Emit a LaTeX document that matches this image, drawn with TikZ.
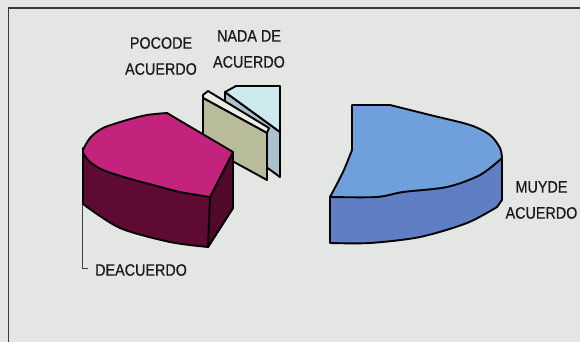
\documentclass[tikz,border=0pt]{standalone}
\usepackage{fontspec}
\newfontfamily\lbl[FakeStretch=0.87,FakeBold=0.5]{Liberation Sans}
\definecolor{bgc}{HTML}{E4E6E3}
\definecolor{framec}{HTML}{3A3A3A}
\definecolor{redtop}{HTML}{C3237D}
\definecolor{redside}{HTML}{5F0A32}
\definecolor{redright}{HTML}{52082B}
\definecolor{bluetop}{HTML}{70A0DC}
\definecolor{blueside}{HTML}{5F7EC4}
\definecolor{sheetgray}{HTML}{B9BC9B}
\definecolor{sheetlight}{HTML}{ECEEE6}
\definecolor{sheetblue}{HTML}{A9C2CE}
\definecolor{sheetcyan}{HTML}{CDEAEE}
\begin{document}
\begin{tikzpicture}[x=1pt,y=-1pt,
  edge/.style={draw=black,line width=1.9pt,line join=round},
  lab/.style={font=\lbl\fontsize{16.5}{26}\selectfont,align=center,inner sep=0pt,text=black!90},
  leader/.style={draw=black!75,line width=1pt}]
\fill[bgc] (0,0) rectangle (580,342);
\useasboundingbox (0,0) rectangle (580,342);
\draw[framec,line width=1.2pt] (8.5,342) -- (8.5,8) -- (580,8);

% thin slices (exploded)
\filldraw[edge,fill=sheetblue] (225,92) -- (280,132) -- (280,177) -- (225,137) -- cycle;
\filldraw[edge,fill=sheetcyan] (225,92) -- (236,86) -- (280,86) -- (280,132) -- cycle;
\filldraw[edge,fill=sheetlight] (203,98) -- (203,95) -- (208,91) -- (269,128) -- (267,133) -- cycle;
\filldraw[edge,fill=sheetgray] (203,98) -- (267,133) -- (267,180) -- (203,145) -- cycle;

% DE ACUERDO piece
\filldraw[edge,fill=redside] (83,148) -- plot[smooth] coordinates {(83,204) (120,228) (170,242) (208,247)} -- (233,208) -- (233,152) -- cycle;
\filldraw[edge,fill=redright] (210,197) -- (233,152) -- (233,208) -- (208,247) -- cycle;
\filldraw[edge,fill=redtop] plot[smooth] coordinates {(83,150) (90,138) (103,128) (127,120) (147,115) (167,113)} -- (233,152) -- plot[smooth] coordinates {(210,197) (180,192) (153,185) (127,178) (103,170) (90,162) (83,153)} -- cycle;

% MUY DE ACUERDO piece
\filldraw[edge,fill=blueside] (330,197) -- plot[smooth] coordinates {(330,243) (370,243) (420,237) (467,223) (497,207)} -- (502,200) -- (502,158) -- cycle;
\filldraw[edge,fill=bluetop] (352,105) -- plot[smooth] coordinates {(390,105) (430,115) (470,125) (490,135) (500,148) (502,158)} -- plot[smooth] coordinates {(502,158) (480,175) (447,187) (403,192) (377,197) (330,197)} -- plot[smooth] coordinates {(330,197) (343,172) (352,150)} -- cycle;

% labels
\node[lab] (poco) at (161,56) {POCODE\\ACUERDO};
\node[lab] (nada) at (249,49) {NADA DE\\ACUERDO};
\node[lab] (muy) at (541.5,200) {MUYDE\\ACUERDO};
\node[lab,anchor=west] (de) at (95,270) {DEACUERDO};
\coordinate (deTop) at (82.5,205);
\coordinate (deEnd) at (88,268);
\draw[leader] (deTop) |- (deEnd);
\end{tikzpicture}
\end{document}
